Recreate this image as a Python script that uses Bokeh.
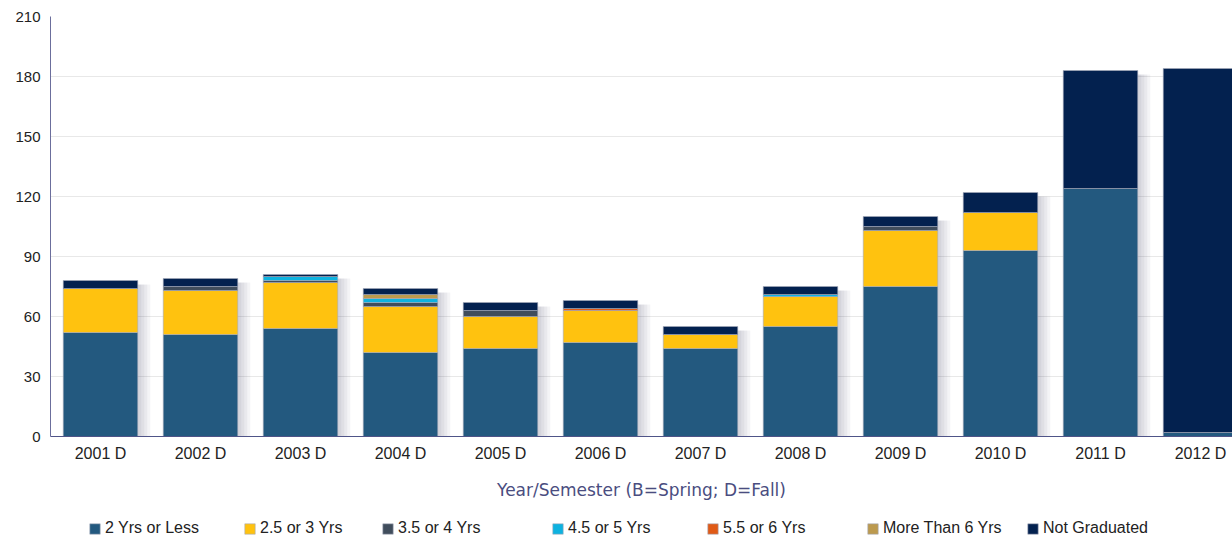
from bokeh.plotting import figure
from bokeh.models import ColumnDataSource, Range1d, FixedTicker, Legend, LegendItem
from bokeh.layouts import column
from bokeh.transform import dodge
from bokeh.embed import file_html
from bokeh.resources import INLINE

# ---------------- data ----------------
semesters = ["2001 D", "2002 D", "2003 D", "2004 D", "2005 D", "2006 D",
             "2007 D", "2008 D", "2009 D", "2010 D", "2011 D", "2012 D"]
yrs_2_or_less   = [52, 51, 54, 42, 44, 47, 44, 55, 75, 93, 124, 2]
yrs_2_5_or_3    = [22, 22, 23, 23, 16, 16, 7, 15, 28, 19, 0, 0]
yrs_3_5_or_4    = [0, 2, 1, 2, 3, 0, 0, 0, 2, 0, 0, 0]
yrs_4_5_or_5    = [0, 0, 2, 2, 0, 0, 0, 1, 0, 0, 0, 0]
yrs_5_5_or_6    = [0, 0, 0, 0, 0, 1, 0, 0, 0, 0, 0, 0]
more_than_6     = [0, 0, 0, 2, 0, 0, 0, 0, 0, 0, 0, 0]
not_graduated   = [4, 4, 1, 3, 4, 4, 4, 4, 5, 10, 59, 182]

series_labels = ["2 Yrs or Less", "2.5 or 3 Yrs", "3.5 or 4 Yrs", "4.5 or 5 Yrs",
                 "5.5 or 6 Yrs", "More Than 6 Yrs", "Not Graduated"]
y_ticks = [0, 30, 60, 90, 120, 150, 180, 210]
x_title = "Year/Semester (B=Spring; D=Fall)"

colors = ["#23597F", "#FFC20F", "#404D5C", "#0DB2E0", "#E05A16", "#BC9A4E", "#03214F"]

series = [yrs_2_or_less, yrs_2_5_or_3, yrs_3_5_or_4, yrs_4_5_or_5,
          yrs_5_5_or_6, more_than_6, not_graduated]
keys = ["s%d" % i for i in range(len(series))]

x = list(range(len(semesters)))
data = {"x": x}
for k, v in zip(keys, series):
    data[k] = v
totals = [sum(v) for v in zip(*series)]
data["shadow_top"] = [t - 2 for t in totals]
src = ColumnDataSource(data)

BAR_W = 0.745
BAR_LINE = "#a6abba"

# ---------------- main chart ----------------
p = figure(width=1232, height=510,
           x_range=Range1d(-0.5, 11.32), y_range=Range1d(0, 210),
           output_backend="svg", toolbar_location=None,
           min_border_left=50, min_border_right=0,
           min_border_top=16, min_border_bottom=74)
p.background_fill_color = "white"
p.border_fill_color = "white"
p.outline_line_color = None

# soft shadows to the right of the bars
for off in [0.035, 0.065, 0.095, 0.125]:
    p.vbar(x=dodge("x", off, range=p.x_range), top="shadow_top", bottom=0,
           width=BAR_W, source=src, fill_color="#2a3048", fill_alpha=0.05,
           line_alpha=0)

p.vbar_stack(keys, x="x", width=BAR_W, source=src,
             fill_color=colors, line_color=BAR_LINE, line_width=0.6)

p.xaxis.ticker = FixedTicker(ticks=x)
p.xaxis.major_label_overrides = {i: s for i, s in enumerate(semesters)}
p.xaxis.major_tick_line_color = None
p.xaxis.minor_tick_line_color = None
p.xaxis.major_tick_out = 0
p.xaxis.major_tick_in = 0
p.xaxis.minor_tick_out = 0
p.xaxis.major_label_standoff = 8
p.xaxis.major_label_text_font = "Liberation Sans"
p.xaxis.major_label_text_font_size = "16px"
p.xaxis.major_label_text_color = "#222222"
p.xaxis.axis_line_color = "#4f5488"
p.xaxis.axis_label = x_title
p.xaxis.axis_label_text_font = "DejaVu Sans"
p.xaxis.axis_label_text_font_size = "17px"
p.xaxis.axis_label_text_font_style = "normal"
p.xaxis.axis_label_text_color = "#4a4d80"
p.xaxis.axis_label_standoff = 15

p.yaxis.ticker = FixedTicker(ticks=y_ticks)
p.yaxis.major_tick_line_color = None
p.yaxis.minor_tick_line_color = None
p.yaxis.major_tick_out = 0
p.yaxis.major_tick_in = 0
p.yaxis.minor_tick_out = 0
p.yaxis.major_label_standoff = 10
p.yaxis.major_label_text_font = "Liberation Sans"
p.yaxis.major_label_text_font_size = "15px"
p.yaxis.major_label_text_color = "#222222"
p.yaxis.axis_line_color = "#6b6e9c"

p.xgrid.grid_line_color = None
p.ygrid.grid_line_color = "#e8e8e8"
p.ygrid.grid_line_width = 1

# ---------------- legend strip ----------------
# the stacked bars are drawn here again only to feed the legend swatches;
# the ranges keep them out of view
lg = figure(width=1232, height=27,
            x_range=Range1d(-300, -299), y_range=Range1d(-300, -299),
            output_backend="svg", toolbar_location=None,
            x_axis_location=None, y_axis_location=None, min_border=0)
lg.outline_line_color = None
lg.grid.visible = False
lg.background_fill_color = "white"
lg.border_fill_color = "white"
leg_renderers = lg.vbar_stack(keys, x="x", width=BAR_W, source=src,
                              fill_color=colors, line_color=BAR_LINE, line_width=0.6)

# legend item left edges, relative to the plot frame (which starts at x=50)
legend_x = [38, 193, 331, 501, 656, 816, 976]
for lab, r, lx in zip(series_labels, leg_renderers, legend_x):
    leg = Legend(items=[LegendItem(label=lab, renderers=[r])], location=(lx, 0),
                 padding=0, margin=0, spacing=0,
                 glyph_width=13, glyph_height=13, label_standoff=4, label_height=16,
                 label_text_font="Liberation Sans", label_text_font_size="16px",
                 label_text_color="#222222",
                 border_line_alpha=0, background_fill_alpha=0)
    lg.add_layout(leg, "center")

layout = column(p, lg, spacing=0)
open("out.html", "w").write(file_html(layout, INLINE))
